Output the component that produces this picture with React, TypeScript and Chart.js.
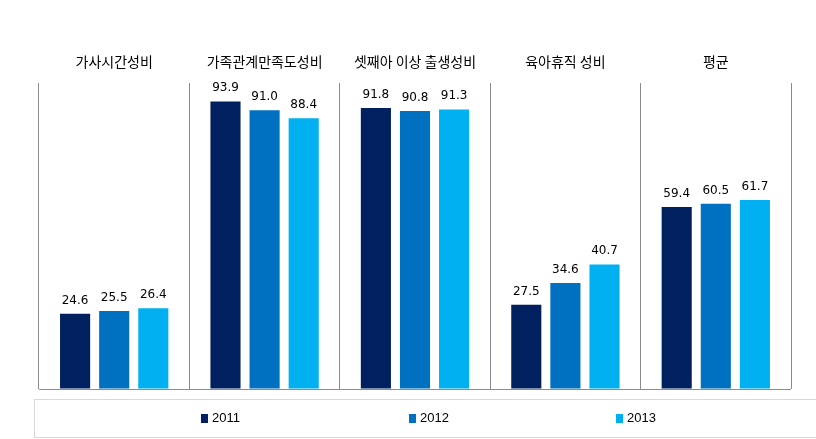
import React, { useEffect, useRef } from "react";
import { Chart, registerables } from "chart.js";

Chart.register(...registerables);

const categories = ["가사시간성비", "가족관계만족도성비", "셋째아 이상 출생성비", "육아휴직 성비", "평균"];
const series2011 = [24.6, 93.9, 91.8, 27.5, 59.4];
const series2012 = [25.5, 91.0, 90.8, 34.6, 60.5];
const series2013 = [26.4, 88.4, 91.3, 40.7, 61.7];
const seriesLabels = ["2011", "2012", "2013"];
const seriesColors = ["#002060", "#0070C0", "#00B0F0"];

const valueLabelPlugin = {
  id: "valueLabels",
  afterDatasetsDraw(chart: any) {
    const ctx = chart.ctx;
    ctx.save();
    ctx.font = "12px 'DejaVu Sans'";
    ctx.fillStyle = "#000000";
    ctx.textAlign = "center";
    ctx.textBaseline = "alphabetic";
    chart.data.datasets.forEach((ds: any, i: number) => {
      const meta = chart.getDatasetMeta(i);
      meta.data.forEach((bar: any, j: number) => {
        const v = ds.data[j] as number;
        ctx.fillText(v.toFixed(1), bar.x, bar.y - 10);
      });
    });
    ctx.restore();
  },
};

const boxLegendPlugin = {
  id: "boxLegend",
  afterDraw(chart: any) {
    const ctx = chart.ctx;
    ctx.save();
    ctx.strokeStyle = "#d9d9d9";
    ctx.lineWidth = 1;
    ctx.strokeRect(34.5, 399.5, 820, 38);
    ctx.font = "13px 'Liberation Sans'";
    ctx.textBaseline = "middle";
    ctx.textAlign = "left";
    chart.data.datasets.forEach((ds: any, i: number) => {
      const x = 201 + i * 207.5;
      ctx.fillStyle = ds.backgroundColor;
      ctx.fillRect(Math.round(x), 414, 7, 9);
      ctx.fillStyle = "#000000";
      ctx.fillText(ds.label, Math.round(x) + 11, 418.5);
    });
    ctx.restore();
  },
};

export default function App() {
  const ref = useRef<HTMLCanvasElement | null>(null);
  useEffect(() => {
    if (!ref.current) return;
    const allSeries = [series2011, series2012, series2013];
    const chart = new Chart(ref.current, {
      type: "bar",
      data: {
        labels: categories,
        datasets: allSeries.map((d, i) => ({
          label: seriesLabels[i],
          data: d,
          backgroundColor: seriesColors[i],
          borderWidth: 0,
          categoryPercentage: 0.78,
          barPercentage: 0.77,
        })),
      },
      options: {
        animation: false,
        responsive: true,
        maintainAspectRatio: false,
        layout: { padding: { left: 39, right: 25, top: 40, bottom: 50 } },
        plugins: {
          legend: { display: false },
          tooltip: { enabled: false },
        },
        scales: {
          x: {
            position: "top",
            grid: {
              offset: true,
              drawTicks: false,
              color: "#8c8c8c",
              lineWidth: 1,
            },
            border: { display: false },
            ticks: {
              padding: 13,
              color: "#000000",
              font: { family: "'Noto Sans CJK KR'", size: 14 },
              maxRotation: 0,
              autoSkip: false,
            },
          },
          y: {
            min: 0,
            max: 100,
            display: true,
            afterFit: (s: any) => {
              s.width = 0;
            },
            ticks: { display: false, stepSize: 20 },
            border: { display: false },
            grid: {
              drawTicks: false,
              color: (c: any) => (c.tick && c.tick.value === 0 ? "#8c8c8c" : "rgba(0,0,0,0)"),
            },
          },
        },
      },
      plugins: [valueLabelPlugin, boxLegendPlugin],
    });
    return () => chart.destroy();
  }, []);
  return (
    <div style={{ position: "fixed", left: 0, top: 0, width: 816, height: 439, background: "#ffffff" }}>
      <canvas ref={ref} />
    </div>
  );
}
